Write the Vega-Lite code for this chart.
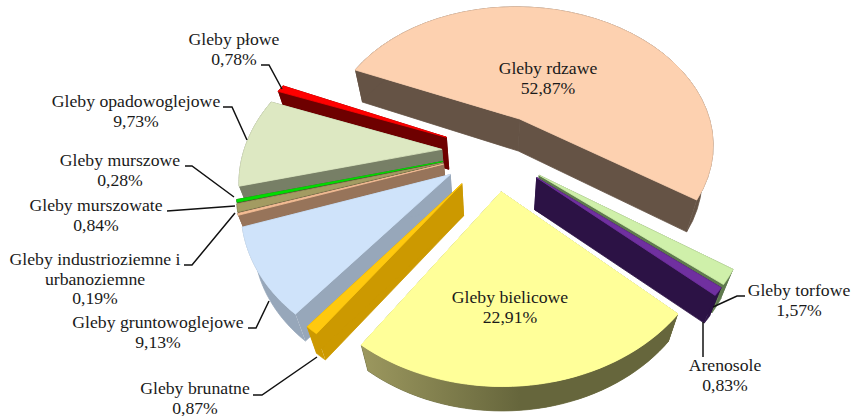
{
"$schema":"https://vega.github.io/schema/vega-lite/v6.json",
"width":852,"height":416,"padding":0,"autosize":{"type":"none"},
"background":"white","view":{"stroke":null},
"params":[
{"name":"cx","value":495},{"name":"cy","value":151.5},{"name":"A","value":198},{"name":"B","value":143},{"name":"k","value":0.18},{"name":"e","value":0.27},{"name":"th0","value":-66.5},{"name":"s","value":0.95}
],
"datasets":{"soil":[
{"name":"Gleby rdzawe","value":52.87,"seq":1},
{"name":"Gleby torfowe","value":1.57,"seq":2},
{"name":"Gleby płowe","value":0.78,"seq":11},
{"name":"Gleby opadowoglejowe","value":9.73,"seq":10},
{"name":"Gleby murszowe","value":0.28,"seq":9},
{"name":"Gleby murszowate","value":0.84,"seq":8},
{"name":"Gleby industrioziemne i urbanoziemne","value":0.19,"seq":7},
{"name":"Gleby gruntowoglejowe","value":9.13,"seq":6},
{"name":"Arenosole","value":0.83,"seq":3},
{"name":"Gleby brunatne","value":0.87,"seq":5},
{"name":"Gleby bielicowe","value":22.91,"seq":4}
]},
"layer":[
{"data":{"name":"soil"},
"transform":[
{"window":[{"op":"sum","field":"value","as":"cum"}],"sort":[{"field":"seq","order":"ascending"}]},
{"calculate":"(th0+(datum.cum-datum.value)*3.6)*PI/180","as":"a0"},
{"calculate":"datum.value*3.6*PI/180","as":"sw"},
{"calculate":"datum.a0+datum.sw/2","as":"m"},
{"calculate":"sequence(0,133)","as":"i"},
{"flatten":["i"]},
{"calculate":"datum.i<4?'L':datum.i<8?'R':datum.i<90?'C':'T'","as":"face"},
{"calculate":"datum.i<4?((datum.i==1||datum.i==2)?-1:0):datum.i<8?((datum.i==5||datum.i==6)?-1:1):datum.i<90?((datum.i-8)<=40?(datum.i-8)/40:(81-(datum.i-8))/40):((datum.i==90||datum.i==132||datum.i==133)?-1:(datum.i-91)/40)","as":"t"},
{"calculate":"(datum.i==2||datum.i==3||datum.i==6||datum.i==7||(datum.i>=49&&datum.i<90))?1:0","as":"z"},
{"calculate":"datum.t<0?0:datum.a0+datum.t*datum.sw","as":"a"},
{"calculate":"e*sin(datum.m)+(datum.t<0?0:sin(datum.a))","as":"u"},
{"calculate":"e*cos(datum.m)+(datum.t<0?0:cos(datum.a))","as":"v"},
{"calculate":"1+k*datum.v","as":"d"},
{"calculate":"cx+A*datum.u/datum.d","as":"x0"},
{"calculate":"datum.z?cx+(datum.x0-cx)*s:datum.x0","as":"px"},
{"calculate":"cy-B*datum.v/datum.d+datum.z*min(32,34.3+7.8*datum.v)","as":"py"},
{"calculate":"datum.name+(datum.face=='T'?'|T':'|W')","as":"key"},
{"calculate":"datum.name+datum.face","as":"grp"}
],
"encoding":{
"x":{"field":"px","type":"quantitative","scale":{"domain":[0,852],"nice":false,"zero":false},"axis":null},
"y":{"field":"py","type":"quantitative","scale":{"domain":[416,0],"nice":false,"zero":false},"axis":null},
"order":{"field":"i","type":"quantitative"},
"detail":{"field":"grp"}
},
"layer":[
{"mark":{"type":"line","strokeWidth":0.8,"interpolate":"linear"},
"encoding":{
"fill":{"field":"key","type":"nominal","legend":null,"scale":{"domain":["Gleby rdzawe|T","Gleby rdzawe|W","Gleby torfowe|T","Gleby torfowe|W","Gleby płowe|T","Gleby płowe|W","Gleby opadowoglejowe|T","Gleby opadowoglejowe|W","Gleby murszowe|T","Gleby murszowe|W","Gleby murszowate|T","Gleby murszowate|W","Gleby industrioziemne i urbanoziemne|T","Gleby industrioziemne i urbanoziemne|W","Gleby gruntowoglejowe|T","Gleby gruntowoglejowe|W","Arenosole|T","Arenosole|W","Gleby brunatne|T","Gleby brunatne|W","Gleby bielicowe|T","Gleby bielicowe|W"],
"range":["#FDD1B0","#655345","#CFF0AA","#5F7A4E","#FF0000","#6E0000","#DDE8C2","#777F66","#00DD00","#4A4A30","#A39B62","#4A4A30","#F5BE95","#97745A","#CFE3FA","#97A7BA","#7030A0","#2C1245","#FFC90E","#CC9900","#FFFF99","#6F6E42"]}},
"stroke":{"field":"key","type":"nominal","legend":null,"scale":{"domain":["Gleby rdzawe|T","Gleby rdzawe|W","Gleby torfowe|T","Gleby torfowe|W","Gleby płowe|T","Gleby płowe|W","Gleby opadowoglejowe|T","Gleby opadowoglejowe|W","Gleby murszowe|T","Gleby murszowe|W","Gleby murszowate|T","Gleby murszowate|W","Gleby industrioziemne i urbanoziemne|T","Gleby industrioziemne i urbanoziemne|W","Gleby gruntowoglejowe|T","Gleby gruntowoglejowe|W","Arenosole|T","Arenosole|W","Gleby brunatne|T","Gleby brunatne|W","Gleby bielicowe|T","Gleby bielicowe|W"],
"range":["#FDD1B0","#655345","#CFF0AA","#5F7A4E","#FF0000","#6E0000","#DDE8C2","#777F66","#00DD00","#4A4A30","#A39B62","#4A4A30","#F5BE95","#97745A","#CFE3FA","#97A7BA","#7030A0","#2C1245","#FFC90E","#CC9900","#FFFF99","#6F6E42"]}}
}},
{"transform":[{"filter":"datum.name=='Gleby bielicowe'&&datum.face=='C'"}],
"mark":{"type":"line","strokeWidth":0,"interpolate":"linear","fill":{"gradient":"linear","x1":0,"y1":0,"x2":1,"y2":0,"stops":[{"offset":0,"color":"#9C985F"},{"offset":0.5,"color":"#66663C"},{"offset":1,"color":"#66663C"}]}}},
{"transform":[{"filter":"datum.name=='Gleby bielicowe'&&datum.face=='T'"}],
"mark":{"type":"line","strokeWidth":0.8,"color":"#FFFF99","fill":"#FFFF99","interpolate":"linear"}}
]},
{"data":{"name":"soil"},
"transform":[
{"filter":"datum.name!='Gleby rdzawe'&&datum.name!='Gleby bielicowe'"},
{"calculate":"{'Gleby płowe':[[261,65],[269,65],[282,89]],'Gleby opadowoglejowe':[[223,107],[232,107],[247,140]],'Gleby murszowe':[[185,166],[192,166],[234,197]],'Gleby murszowate':[[167,211],[235,206]],'Gleby industrioziemne i urbanoziemne':[[184,265],[192,265],[235,213]],'Gleby gruntowoglejowe':[[248,328],[256,328],[269,301]],'Gleby brunatne':[[253,395],[262,395],[317,357]],'Arenosole':[[703,357],[703,322]],'Gleby torfowe':[[745,296],[737,296],[713,307]]}[datum.name]","as":"lead"},
{"calculate":"sequence(0,length(datum.lead))","as":"n"},
{"flatten":["n"]},
{"calculate":"datum.lead[datum.n][0]","as":"px"},
{"calculate":"datum.lead[datum.n][1]","as":"py"}
],
"mark":{"type":"line","color":"#111111","strokeWidth":1.5},
"encoding":{
"x":{"field":"px","type":"quantitative"},
"y":{"field":"py","type":"quantitative"},
"order":{"field":"n","type":"quantitative"},
"detail":{"field":"name"}
}},
{"data":{"name":"soil"},
"transform":[
{"calculate":"{'Gleby rdzawe':[548,69],'Gleby torfowe':[799,291],'Gleby płowe':[234,40],'Gleby opadowoglejowe':[136,102],'Gleby murszowe':[120,161],'Gleby murszowate':[96,206],'Gleby industrioziemne i urbanoziemne':[95,260],'Gleby gruntowoglejowe':[158,323],'Arenosole':[725,366],'Gleby brunatne':[195,389],'Gleby bielicowe':[510,298]}[datum.name]","as":"pos"},
{"calculate":"datum.pos[0]","as":"px"},
{"calculate":"datum.pos[1]","as":"py"},
{"calculate":"replace(datum.name,' i ',' i\\n')+'\\n'+replace(format(datum.value,'.2f'),'.',',')+'%'","as":"label"}
],
"mark":{"type":"text","font":"Liberation Serif","fontSize":17.7,"lineBreak":"\n","lineHeight":19.7,"align":"center","baseline":"middle","color":"#1a1a1a"},
"encoding":{
"x":{"field":"px","type":"quantitative"},
"y":{"field":"py","type":"quantitative"},
"text":{"field":"label"}
}}
]
}
